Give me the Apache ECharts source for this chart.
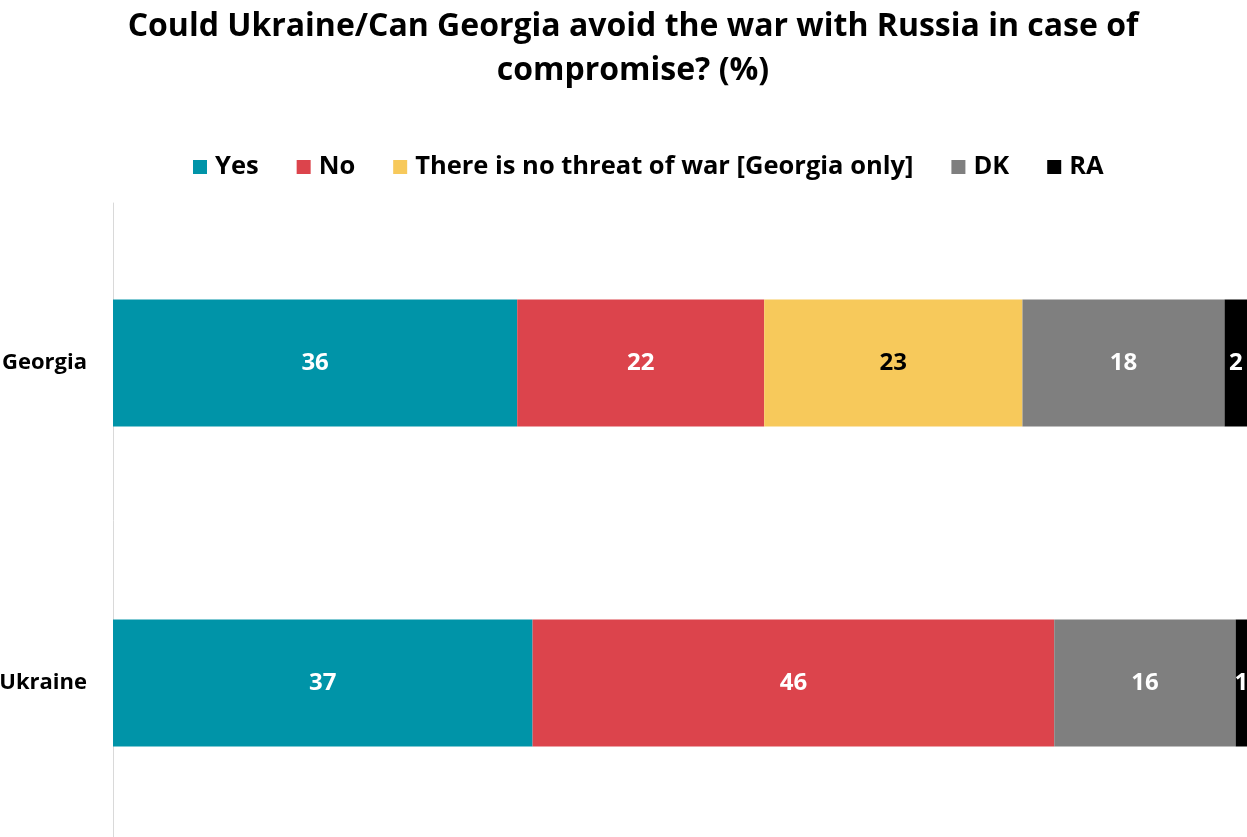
<!DOCTYPE html>
<html>
<head>
<meta charset="utf-8">
<script src="https://cdn.jsdelivr.net/npm/echarts@6/dist/echarts.min.js"></script>
<style>
  html, body { margin: 0; padding: 0; background: #ffffff; }
  #chart { width: 1247px; height: 837px; }
</style>
</head>
<body>
<div id="chart"></div>
<script>
// Survey answers, in percent, per country
const countries = ['Georgia', 'Ukraine'];
const seriesNames = ['Yes', 'No', 'There is no threat of war [Georgia only]', 'DK', 'RA'];
const yesValues = [36, 37];
const noValues = [22, 46];
const noThreatValues = [23, null];
const dkValues = [18, 16];
const raValues = [2, 1];

const colors = ['#0094A8', '#DC444C', '#F7C95B', '#7F7F7F', '#000000'];
const labelColors = ['#ffffff', '#ffffff', '#000000', '#ffffff', '#ffffff'];

const rawSeries = [yesValues, noValues, noThreatValues, dkValues, raValues];

// Each bar is scaled to a full 100% row; labels keep the reported numbers
const rowTotals = countries.map((_, i) =>
  rawSeries.reduce((sum, arr) => sum + (arr[i] || 0), 0));

const FONT = '"Open Sans", "Noto Sans", sans-serif';

const chart = echarts.init(document.getElementById('chart'));

const series = rawSeries.map((arr, si) => ({
  name: seriesNames[si],
  type: 'bar',
  stack: 'total',
  barWidth: 127,
  itemStyle: { color: colors[si] },
  label: {
    show: true,
    position: 'inside',
    color: labelColors[si],
    fontFamily: FONT,
    fontWeight: 'bold',
    fontSize: 24,
    formatter: p => (arr[p.dataIndex] == null ? '' : String(arr[p.dataIndex]))
  },
  emphasis: { disabled: true },
  data: arr.map((v, i) => (v == null ? null : v / rowTotals[i] * 100))
}));

chart.setOption({
  animation: false,
  backgroundColor: '#ffffff',
  title: {
    text: 'Could Ukraine/Can Georgia avoid the war with Russia in case of\ncompromise? (%)',
    left: 628,
    textAlign: 'center',
    top: 0,
    textStyle: {
      fontFamily: FONT,
      fontWeight: 'bold',
      fontSize: 32,
      lineHeight: 44,
      color: '#000000'
    }
  },
  legend: {
    data: seriesNames,
    left: 188,
    top: 149,
    icon: 'rect',
    itemWidth: 14,
    itemHeight: 14,
    itemGap: 38,
    textStyle: {
      fontFamily: FONT,
      fontWeight: 'bold',
      fontSize: 25.5,
      color: '#000000',
      padding: [0, 0, 0, 3]
    }
  },
  grid: {
    left: 113,
    right: 0,
    top: 203,
    height: 640,
    outerBoundsMode: 'none',
    containLabel: false
  },
  xAxis: {
    type: 'value',
    min: 0,
    max: 100,
    show: false
  },
  yAxis: {
    type: 'category',
    data: countries,
    inverse: true,
    axisLine: { show: true, lineStyle: { color: '#D9D9D9', width: 1 } },
    axisTick: { show: false },
    axisLabel: {
      fontFamily: FONT,
      fontWeight: 'bold',
      fontSize: 22,
      color: '#000000',
      margin: 26
    },
    splitLine: { show: false }
  },
  series: series
});
</script>
</body>
</html>
